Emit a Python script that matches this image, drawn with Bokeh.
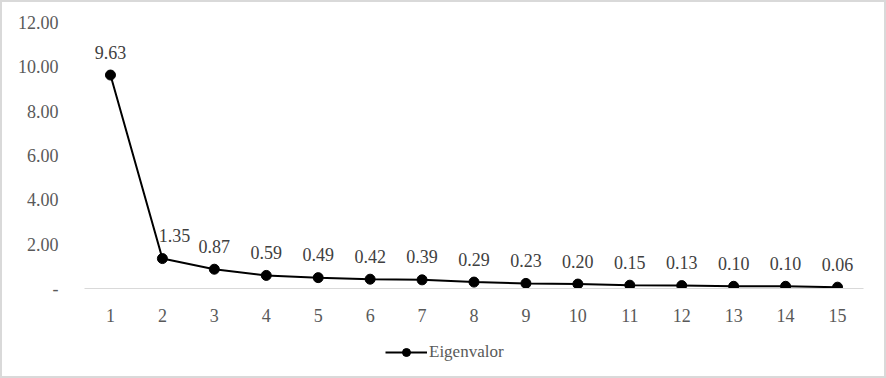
from bokeh.plotting import figure
from bokeh.models import ColumnDataSource, Range1d, FixedTicker, NumeralTickFormatter, Legend, LegendItem
from bokeh.layouts import column
from bokeh.embed import file_html
from bokeh.resources import INLINE

components = [str(i) for i in range(1, 16)]
eigen = [9.63, 1.35, 0.87, 0.59, 0.49, 0.42, 0.39, 0.29, 0.23, 0.20, 0.15, 0.13, 0.10, 0.10, 0.06]
y_ticks = [0, 2, 4, 6, 8, 10, 12]
series_name = "Eigenvalor"

FONT = "Liberation Serif"
GREY = "#595959"
LBL = "#404040"

labels = ["%.2f" % v for v in eigen]
src = ColumnDataSource(dict(x=components, y=eigen, lab=labels))
main_src = ColumnDataSource(dict(x=[c for i, c in enumerate(components) if i != 1],
                                 y=[v for i, v in enumerate(eigen) if i != 1],
                                 lab=[l for i, l in enumerate(labels) if i != 1]))
second_src = ColumnDataSource(dict(x=[components[1]], y=[eigen[1]], lab=[labels[1]]))

TOP_H = 324
p = figure(width=882, height=TOP_H, x_range=components, y_range=Range1d(0, 12),
           output_backend="svg", toolbar_location=None,
           min_border_left=82, min_border_right=21, min_border_top=20, min_border_bottom=TOP_H - 286)
p.outline_line_color = None
p.xgrid.grid_line_color = None
p.ygrid.grid_line_color = None
p.x_range.range_padding = 0

p.line("x", "y", source=src, line_color="black", line_width=2)
p.scatter("x", "y", source=src, size=10, fill_color="black", line_color="black")

p.text("x", "y", text="lab", source=main_src, text_font_size="18px", text_color=LBL,
       text_align="center", text_baseline="middle", y_offset=-23, text_font={"value": FONT})
p.text("x", "y", text="lab", source=second_src, text_font_size="18px", text_color=LBL,
       text_align="center", text_baseline="middle", x_offset=12, y_offset=-23, text_font={"value": FONT})

ya = p.yaxis[0]
ya.ticker = FixedTicker(ticks=y_ticks)
ya.formatter = NumeralTickFormatter(format="0.00")
ya.major_label_overrides = {0: "-"}
ya.axis_line_color = None
ya.major_tick_line_color = None
ya.minor_tick_line_color = None
ya.major_label_standoff = 20
ya.major_label_text_font = FONT
ya.major_label_text_font_size = "18px"
ya.major_label_text_color = GREY

xa = p.xaxis[0]
xa.axis_line_color = "#d9d9d9"
xa.axis_line_width = 1
xa.major_tick_line_color = None
xa.minor_tick_line_color = None
xa.major_label_standoff = 14
xa.major_label_text_font = FONT
xa.major_label_text_font_size = "18px"
xa.major_label_text_color = GREY

# legend strip below the chart (its renderers lie outside the visible range)
LEG_H = 374 - TOP_H
pl = figure(width=882, height=LEG_H, x_range=Range1d(0, 1), y_range=Range1d(0, 1),
            output_backend="svg", toolbar_location=None,
            x_axis_location=None, y_axis_location=None, min_border=0)
pl.outline_line_color = None
pl.xgrid.grid_line_color = None
pl.ygrid.grid_line_color = None
lr = pl.line(x=[-5, -4], y=[-5, -5], line_color="black", line_width=2)
sr = pl.scatter(x=[-5], y=[-5], size=10, fill_color="black", line_color="black")
legend = Legend(items=[LegendItem(label=series_name, renderers=[lr, sr])],
                orientation="horizontal", location=(301, LEG_H - 26 - 10),
                label_text_font=FONT, label_text_font_size="17px", label_text_color=GREY,
                border_line_color=None, background_fill_alpha=0, glyph_width=42, glyph_height=20,
                label_standoff=2, margin=0, padding=0)
pl.add_layout(legend)

layout = column(p, pl, spacing=0, styles={"border": "2px solid #d9d9d9"})

open("out.html", "w").write(file_html(layout, INLINE))
